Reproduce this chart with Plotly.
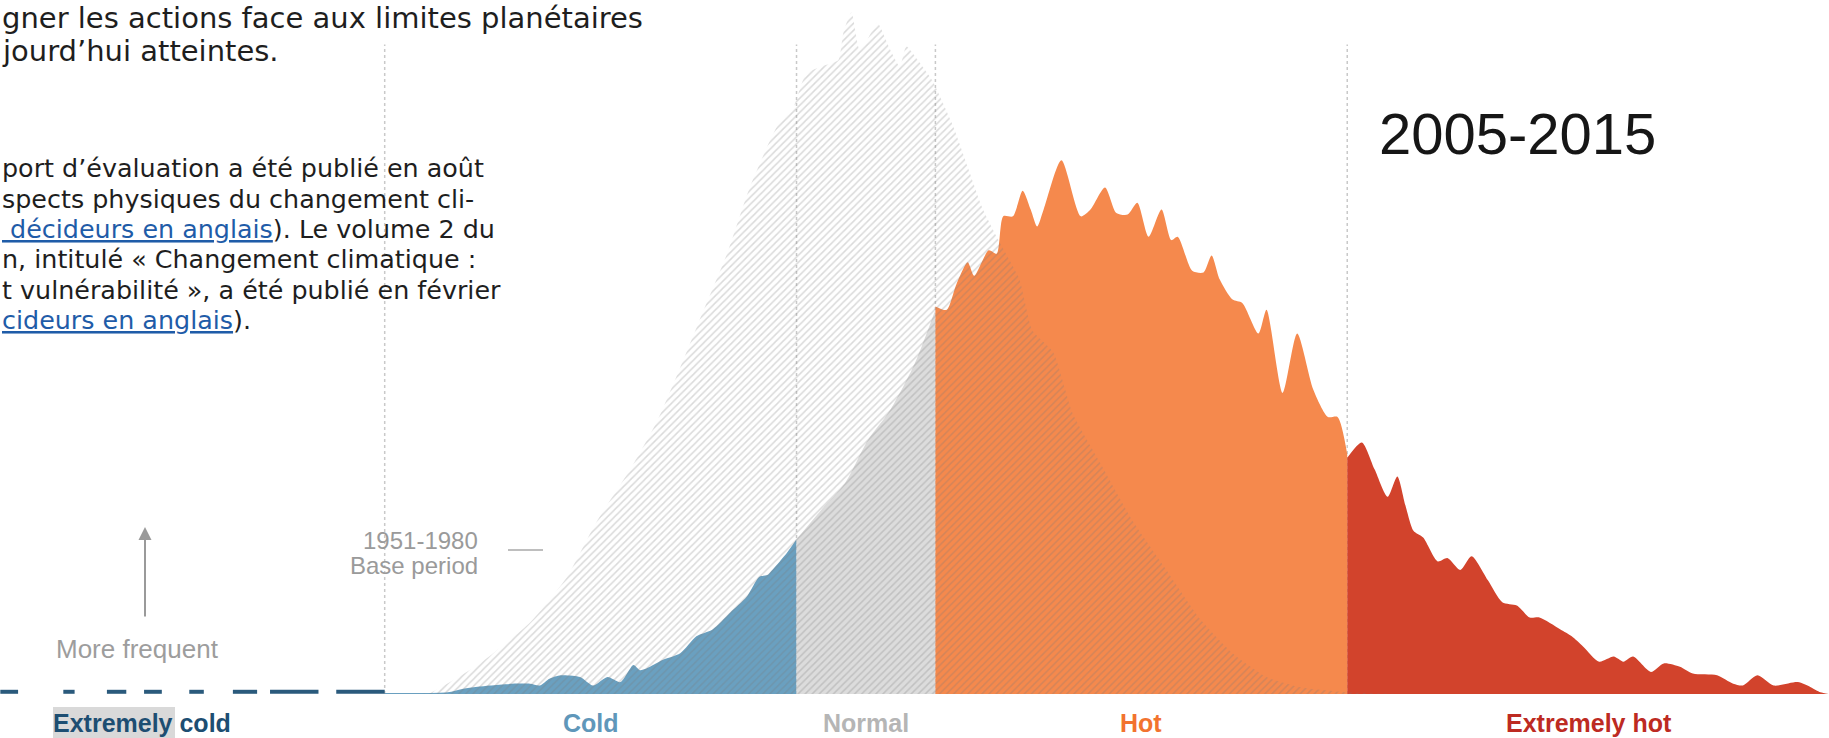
import plotly.graph_objects as go

# x: temperature anomaly in standard deviations of the 1951-1980 base period
# y: relative frequency (density)

# 1951-1980 base period distribution (hatched)
base_x = [-2.76, -2.70, -2.39, -2.08, -1.85, -1.67, -1.46, -1.29, -1.15, -1.03, -0.86, -0.72,
          -0.55, -0.45, -0.37, -0.25, -0.17, -0.14, -0.09, -0.04, 0.01, 0.07, 0.15, 0.21,
          0.25, 0.32, 0.41, 0.54, 0.63, 0.72, 0.82, 0.95, 1.03, 1.16, 1.28, 1.45, 1.65, 1.86,
          2.07, 2.27, 2.48, 2.69, 2.98, 3.31]
base_y = [0.000, 0.0006, 0.018, 0.042, 0.069, 0.101, 0.132, 0.161, 0.192, 0.220, 0.259, 0.298,
          0.334, 0.345, 0.365, 0.370, 0.373, 0.389, 0.401, 0.379, 0.385, 0.395, 0.379, 0.369,
          0.381, 0.373, 0.361, 0.334, 0.310, 0.286, 0.267, 0.244, 0.214, 0.201, 0.165, 0.136, 0.102,
          0.073, 0.044, 0.024, 0.010, 0.004, 0.001, 0.000]

# 2005-2015 distribution, split by category
cold_x = [-2.98, -2.59, -2.50, -2.33, -2.19, -2.08, -2.02, -1.96, -1.89, -1.77, -1.69, -1.60,
          -1.52, -1.44, -1.40, -1.36, -1.26, -1.15, -1.05, -0.95, -0.84, -0.74, -0.66, -0.61,
          -0.58, -0.49, -0.43]
cold_y = [0.0006, 0.001, 0.003, 0.005, 0.006, 0.006, 0.005, 0.009, 0.011, 0.010, 0.005, 0.010,
          0.007, 0.017, 0.014, 0.015, 0.020, 0.024, 0.034, 0.038, 0.048, 0.057, 0.069, 0.070,
          0.073, 0.083, 0.091]

normal_x = [-0.43, -0.28, -0.13, 0.01, 0.15, 0.30, 0.43]
normal_y = [0.091, 0.108, 0.124, 0.149, 0.167, 0.194, 0.226]

hot_x = [0.43, 0.50, 0.56, 0.63, 0.67, 0.76, 0.81, 0.85, 0.91, 0.97, 1.02, 1.06, 1.10, 1.21,
         1.33, 1.39, 1.48, 1.55, 1.62, 1.68, 1.75, 1.83, 1.89, 1.93, 2.02, 2.09, 2.14, 2.19,
         2.27, 2.33, 2.43, 2.48, 2.58, 2.67, 2.77, 2.86, 2.92, 2.98]
hot_y = [0.228, 0.226, 0.241, 0.254, 0.246, 0.261, 0.259, 0.281, 0.281, 0.296, 0.285, 0.275,
         0.285, 0.314, 0.281, 0.285, 0.298, 0.283, 0.282, 0.289, 0.269, 0.285, 0.267, 0.269,
         0.249, 0.248, 0.258, 0.244, 0.232, 0.230, 0.212, 0.226, 0.177, 0.212, 0.179, 0.163,
         0.163, 0.141]

ehot_x = [2.98, 3.07, 3.15, 3.23, 3.29, 3.34, 3.39, 3.45, 3.54, 3.60, 3.68, 3.75, 3.85, 3.94,
          4.03, 4.11, 4.17, 4.30, 4.37, 4.44, 4.54, 4.63, 4.69, 4.75, 4.86, 4.94, 5.04, 5.12,
          5.27, 5.37, 5.43, 5.52, 5.62, 5.77, 5.85, 5.91, 5.96]
ehot_y = [0.139, 0.148, 0.132, 0.116, 0.128, 0.111, 0.096, 0.092, 0.078, 0.080, 0.073, 0.081,
          0.067, 0.054, 0.052, 0.045, 0.045, 0.038, 0.034, 0.028, 0.019, 0.022, 0.019, 0.022,
          0.013, 0.018, 0.016, 0.012, 0.011, 0.006, 0.005, 0.011, 0.005, 0.007, 0.004, 0.001, 0.000]

# extremely cold: only scattered, near-zero frequencies
ecold_start = [-5.36, -4.97, -4.70, -4.47, -4.19, -3.92, -3.69, -3.28]
ecold_end = [-5.25, -4.90, -4.58, -4.36, -4.10, -3.77, -3.39, -2.98]
ecold_level = 0.0013

boundaries = [-2.98, -0.43, 0.43, 2.98]
categories = ["Extremely cold", "Cold", "Normal", "Hot", "Extremely hot"]
category_x = [-4.48, -1.70, 0.0, 1.70, 4.48]
category_colors = ["#1d4e72", "#5f97ba", "#b5b5b5", "#f2732f", "#bd2a22"]

W, H = 1829, 738
def px(x):
    return x / W
def py(y):
    return 1 - y / H

fig = go.Figure()

def area(x, y, color):
    fig.add_trace(go.Scatter(x=x, y=y, mode="lines", fill="tozeroy", fillcolor=color,
                             line=dict(width=0, color=color, shape="spline", smoothing=0.7),
                             hoverinfo="skip", showlegend=False))

area(cold_x, cold_y, "#6aa0c0")
area(normal_x, normal_y, "#dcdcdc")
area(hot_x, hot_y, "#f5894d")
area(ehot_x, ehot_y, "#d2432c")

dx, dy = [], []
for a, b in zip(ecold_start, ecold_end):
    dx += [a, b, None]
    dy += [ecold_level, ecold_level, None]
fig.add_trace(go.Scatter(x=dx, y=dy, mode="lines", line=dict(color="#2a5a7c", width=4),
                         hoverinfo="skip", showlegend=False))

fig.add_trace(go.Scatter(x=base_x, y=base_y, mode="lines", fill="tozeroy",
                         fillcolor="rgba(0,0,0,0)",
                         fillpattern=dict(shape="/", fgcolor="rgba(120,120,120,0.55)",
                                          bgcolor="rgba(0,0,0,0)", size=5, solidity=0.3),
                         line=dict(width=0, shape="spline", smoothing=0.5),
                         hoverinfo="skip", showlegend=False))

for b in boundaries:
    fig.add_shape(type="line", xref="x", yref="y", x0=b, x1=b, y0=0, y1=0.382,
                  line=dict(color="#c9c9c9", width=1.5, dash="dot"), layer="below")

# highlight behind "Extremely"
fig.add_shape(type="rect", xref="paper", yref="paper", x0=px(53), x1=px(175), y0=py(738), y1=py(707),
              fillcolor="#d9d9d9", line=dict(width=0), layer="below")
# leader line for base period
fig.add_shape(type="line", xref="paper", yref="paper", x0=px(508), x1=px(543), y0=py(550), y1=py(550),
              line=dict(color="#a8a8a8", width=1.5))

ann = []
txt_font = "'DejaVu Sans', Lato, sans-serif"
dark = "#1e1e1e"
link = "#1f5ca8"
ann.append(dict(text="gner les actions face aux limites planétaires", x=px(0), y=py(17.5),
                font=dict(size=29, color=dark, family=txt_font)))
ann.append(dict(text="jourd’hui atteintes.", x=px(0), y=py(51.5),
                font=dict(size=29, color=dark, family=txt_font)))
para = [
    "port d’évaluation a été publié en août",
    "spects physiques du changement cli-",
    f"<span style='color:{link}'><u> décideurs en anglais</u></span>). Le volume 2 du",
    "n, intitulé « Changement climatique :",
    "t vulnérabilité », a été publié en février",
    f"<span style='color:{link}'><u>cideurs en anglais</u></span>).",
]
para_base = [177, 207.5, 238, 268.5, 299, 329]
for t, b in zip(para, para_base):
    ann.append(dict(text=t, x=px(0), y=py(b - 9), font=dict(size=25.4, color=dark, family=txt_font)))

for a in ann:
    a.update(xref="paper", yref="paper", xanchor="left", yanchor="middle", showarrow=False)

label_font = "'Liberation Sans', Arial, sans-serif"
more = [
    dict(text="2005-2015", x=px(1517), y=py(133), xanchor="center",
         font=dict(size=58, color="#161616", family=label_font)),
    dict(text="1951-1980", x=px(480), y=py(540), xanchor="right",
         font=dict(size=24, color="#9a9a9a", family=label_font)),
    dict(text="Base period", x=px(480), y=py(565), xanchor="right",
         font=dict(size=24, color="#9a9a9a", family=label_font)),
    dict(text="More frequent", x=px(137), y=py(649), xanchor="center",
         font=dict(size=26, color="#9d9d9d", family=label_font)),
]
for a in more:
    a.update(xref="paper", yref="paper", yanchor="middle", showarrow=False)
    ann.append(a)

ann.append(dict(text="", x=px(145), y=py(527), xref="paper", yref="paper", ax=0, ay=91,
                showarrow=True, arrowhead=2, arrowsize=1.3, arrowwidth=2, arrowcolor="#9a9a9a"))

for c, xc, col in zip(categories, category_x, category_colors):
    ann.append(dict(text=f"<b>{c}</b>", x=xc, xref="x", y=py(723), yref="paper",
                    xanchor="center", yanchor="middle", showarrow=False,
                    font=dict(size=25, color=col, family=label_font)))

fig.update_layout(
    width=W, height=H, margin=dict(l=0, r=0, t=0, b=0),
    paper_bgcolor="white", plot_bgcolor="white",
    xaxis=dict(range=[-5.362, 5.963], visible=False, domain=[0, 1], fixedrange=True),
    yaxis=dict(range=[0, 0.40824], visible=False, domain=[44 / H, 1], fixedrange=True),
    annotations=ann, showlegend=False,
)

fig.write_html("out.html", config={"displayModeBar": False},
               post_script="document.body.style.margin='0px';document.body.style.overflow='hidden';")
